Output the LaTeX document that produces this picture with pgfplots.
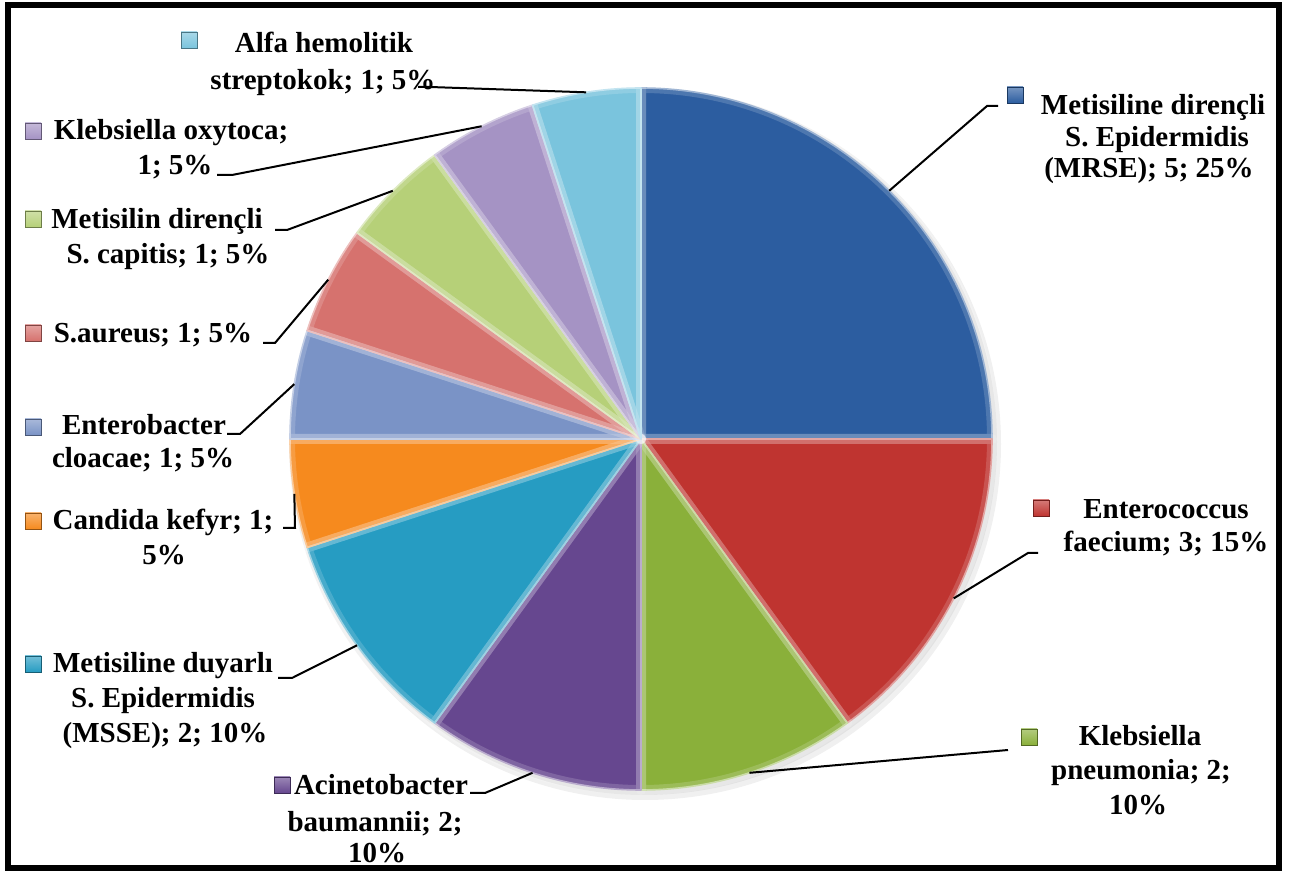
\documentclass[border=0pt]{standalone}
\usepackage{fontspec}
\setmainfont{Liberation Serif}
\usepackage{pgfplots}
\usepackage{pgfplotstable}
\pgfplotsset{compat=1.18}

% slice colours, clockwise from 12 o'clock
\definecolor{slice0}{RGB}{44,93,160}
\definecolor{slice1}{RGB}{191,52,48}
\definecolor{slice2}{RGB}{138,176,58}
\definecolor{slice3}{RGB}{102,71,143}
\definecolor{slice4}{RGB}{38,156,194}
\definecolor{slice5}{RGB}{246,138,30}
\definecolor{slice6}{RGB}{122,147,198}
\definecolor{slice7}{RGB}{214,114,110}
\definecolor{slice8}{RGB}{182,208,120}
\definecolor{slice9}{RGB}{165,147,196}
\definecolor{slice10}{RGB}{122,196,221}

% isolate counts, same order as the colours
\pgfplotstableread{
value
5
3
2
2
2
1
1
1
1
1
1
}\piedata

% leader path from the rim to each label (pixel-like axis units, y downward)
\expandafter\def\csname lead0\endcsname{-- (axis cs:987,106) -- (axis cs:998,106)}
\expandafter\def\csname lead1\endcsname{-- (axis cs:1028,553) -- (axis cs:1038,553)}
\expandafter\def\csname lead2\endcsname{-- (axis cs:1008,750)}
\expandafter\def\csname lead3\endcsname{-- (axis cs:485,793) -- (axis cs:470,793)}
\expandafter\def\csname lead4\endcsname{-- (axis cs:292,678) -- (axis cs:278,678)}
\expandafter\def\csname lead5\endcsname{-- (axis cs:295,528) -- (axis cs:283,528)}
\expandafter\def\csname lead6\endcsname{-- (axis cs:240,434) -- (axis cs:227,434)}
\expandafter\def\csname lead7\endcsname{-- (axis cs:275,343) -- (axis cs:263,343)}
\expandafter\def\csname lead8\endcsname{-- (axis cs:287,230) -- (axis cs:275,230)}
\expandafter\def\csname lead9\endcsname{-- (axis cs:232,175) -- (axis cs:217,175)}
\expandafter\def\csname lead10\endcsname{-- (axis cs:430,87) -- (axis cs:418,87)}

\newcommand{\lbl}{\bfseries\fontsize{14.5}{17}\selectfont}
\tikzset{
  key/.style={draw=#1!60!black, line width=0.4pt, inner sep=0pt,
    minimum size=8pt, top color=#1!65!white, bottom color=#1},
  txt/.style={anchor=base, inner sep=0pt, font=\lbl},
}

\begin{document}
\begin{tikzpicture}
\begin{axis}[
  width=646pt, height=438pt, scale only axis,
  xmin=0, xmax=1292, ymin=0, ymax=876, y dir=reverse,
  hide axis, clip=false,
]
\coordinate (TL) at (axis cs:0,0);
\coordinate (BR) at (axis cs:1292,876);

% total of all counts
\def\pietotal{0}
\pgfplotsforeachungrouped \i in {0,...,10} {%
  \pgfplotstablegetelem{\i}{value}\of\piedata
  \pgfmathsetmacro\pietotal{\pietotal+\pgfplotsretval}%
}

% soft shadow under the pie
\fill[black, opacity=0.06] (axis cs:645,444) circle[radius=178pt];
\fill[black, opacity=0.06] (axis cs:644,442) circle[radius=176.5pt];

% slices, clockwise from the top
\def\cumangle{90}
\pgfplotsforeachungrouped \i in {0,...,10} {%
  \pgfplotstablegetelem{\i}{value}\of\piedata
  \pgfmathsetmacro\startangle{\cumangle}%
  \pgfmathsetmacro\endangle{\cumangle-360*\pgfplotsretval/\pietotal}%
  \edef\slicecmd{%
    \noexpand\fill[fill=slice\i]
      (axis cs:641,439) -- ++(\startangle:175.5pt)
      arc[start angle=\startangle, end angle=\endangle, radius=175.5pt] -- cycle;
  }%
  \slicecmd
  \global\let\cumangle\endangle
}

% bevelled edges of the slices and leader lines to the labels
\def\cumangle{90}
\pgfplotsforeachungrouped \i in {0,...,10} {%
  \pgfplotstablegetelem{\i}{value}\of\piedata
  \pgfmathsetmacro\startangle{\cumangle}%
  \pgfmathsetmacro\endangle{\cumangle-360*\pgfplotsretval/\pietotal}%
  \pgfmathsetmacro\midangle{(\startangle+\endangle)/2}%
  \edef\slicecmd{%
    \noexpand\draw[white, opacity=0.16, line width=5pt, line join=round]
      (axis cs:641,439) -- ++(\startangle:175.5pt)
      arc[start angle=\startangle, end angle=\endangle, radius=175.5pt] -- cycle;
    \noexpand\draw[slice\i!45!white, line width=0.8pt, line join=round]
      (axis cs:641,439) -- ++(\startangle:175.5pt)
      arc[start angle=\startangle, end angle=\endangle, radius=175.5pt] -- cycle;
  }%
  \slicecmd
  \global\let\cumangle\endangle
}
\def\cumangle{90}
\pgfplotsforeachungrouped \i in {0,...,10} {%
  \pgfplotstablegetelem{\i}{value}\of\piedata
  \pgfmathsetmacro\startangle{\cumangle}%
  \pgfmathsetmacro\endangle{\cumangle-360*\pgfplotsretval/\pietotal}%
  \pgfmathsetmacro\midangle{(\startangle+\endangle)/2}%
  \edef\leadcmd{%
    \noexpand\draw[black, line width=1pt]
      (axis cs:641,439) ++(\midangle:175.5pt) \csname lead\i\endcsname;
  }%
  \leadcmd
  \global\let\cumangle\endangle
}

% labels with their colour keys
\node[key=slice0] at (axis cs:1015,95) {};
\node[txt] at (axis cs:1153,115) {Metisiline dirençli};
\node[txt] at (axis cs:1157,147) {S. Epidermidis};
\node[txt] at (axis cs:1149,178) {(MRSE); 5; 25\%};

\node[key=slice1] at (axis cs:1041,508) {};
\node[txt] at (axis cs:1166,519) {Enterococcus};
\node[txt] at (axis cs:1166,552) {faecium; 3; 15\%};

\node[key=slice2] at (axis cs:1029,737) {};
\node[txt] at (axis cs:1140,746) {Klebsiella};
\node[txt] at (axis cs:1141,780) {pneumonia; 2;};
\node[txt] at (axis cs:1138,815) {10\%};

\node[key=slice3] at (axis cs:282,785) {};
\node[txt] at (axis cs:381,795) {Acinetobacter};
\node[txt] at (axis cs:375,832) {baumannii; 2;};
\node[txt] at (axis cs:377,863) {10\%};

\node[key=slice4] at (axis cs:33,664) {};
\node[txt] at (axis cs:163,673) {Metisiline duyarlı};
\node[txt] at (axis cs:163,708) {S. Epidermidis};
\node[txt] at (axis cs:165,743) {(MSSE); 2; 10\%};

\node[key=slice5] at (axis cs:33,521) {};
\node[txt] at (axis cs:163,530) {Candida kefyr; 1;};
\node[txt] at (axis cs:164,565) {5\%};

\node[key=slice6] at (axis cs:33,427) {};
\node[txt] at (axis cs:144,435) {Enterobacter};
\node[txt] at (axis cs:143,468) {cloacae; 1; 5\%};

\node[key=slice7] at (axis cs:33,333) {};
\node[txt] at (axis cs:153,343) {S.aureus; 1; 5\%};

\node[key=slice8] at (axis cs:33,219) {};
\node[txt] at (axis cs:157,229) {Metisilin dirençli};
\node[txt] at (axis cs:168,264) {S. capitis; 1; 5\%};

\node[key=slice9] at (axis cs:33,131) {};
\node[txt] at (axis cs:171,140) {Klebsiella oxytoca;};
\node[txt] at (axis cs:175,175) {1; 5\%};

\node[key=slice10] at (axis cs:189,40) {};
\node[txt] at (axis cs:324,53) {Alfa hemolitik};
\node[txt] at (axis cs:323,90) {streptokok; 1; 5\%};

% chart frame
\draw[black, line width=3pt] (axis cs:8,5.5) rectangle (axis cs:1279,868);
\end{axis}
\pgfresetboundingbox
\useasboundingbox (TL) rectangle (BR);
\end{tikzpicture}
\end{document}
